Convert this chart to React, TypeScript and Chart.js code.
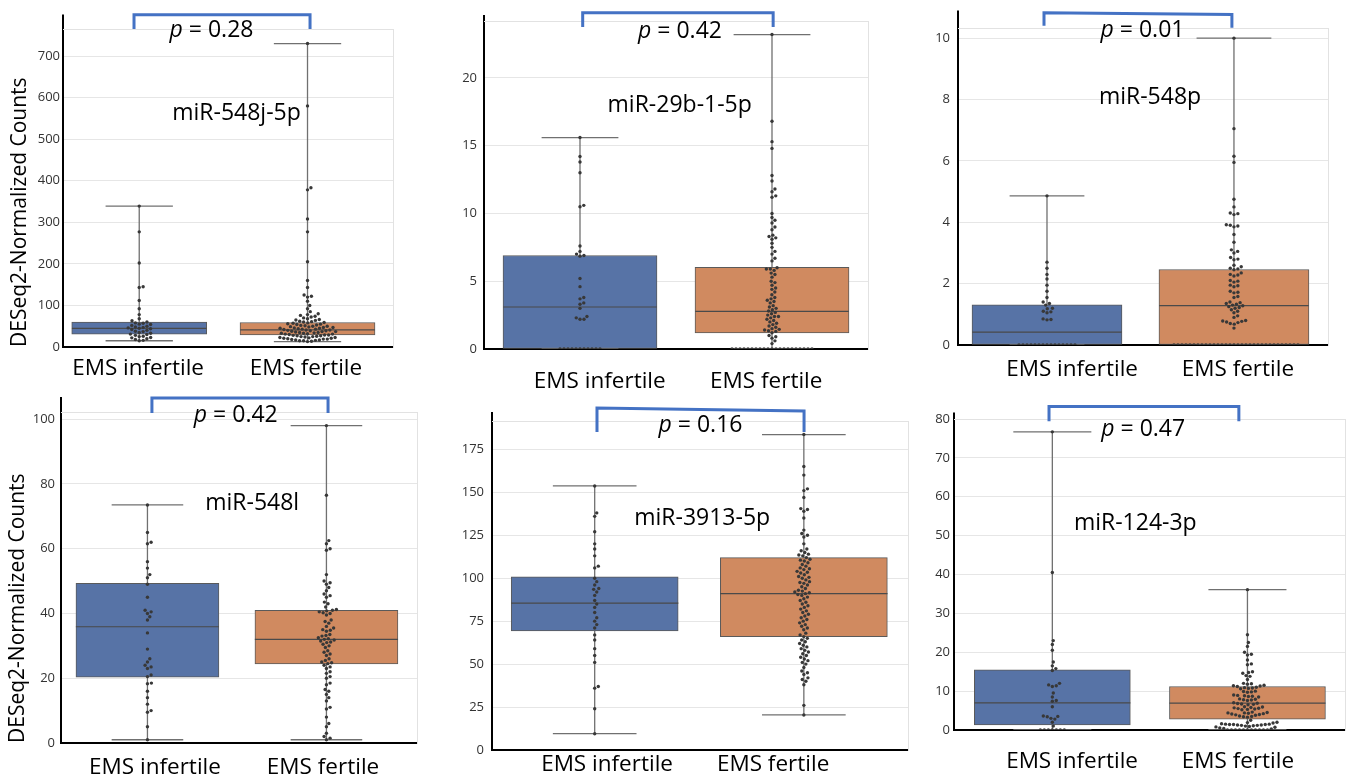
import React, { useEffect, useRef } from 'react';
import { Chart, registerables } from 'chart.js';

Chart.register(...registerables);

const FONT = "'Open Sans', 'DejaVu Sans', sans-serif";
const GROUPS = ['EMS infertile', 'EMS fertile'];
const Y_TITLE = 'DESeq2-Normalized Counts';
const BLUE = '#5773a6';
const ORANGE = '#d08a60';
const FRAME = '#e2e2e2';

// box stats: [min, q1, median, q3, max]
// ---- Panel 1: miR-548j-5p
const p1Name = 'miR-548j-5p';
const p1PValue = '0.28';
const p1InfBox = [15, 31, 45, 60, 339];
const p1FertBox = [13, 29, 41, 59, 730];
const p1InfPts = [339, 277, 202, 145, 143, 112, 92, 78, 68, 63, 60, 58, 57, 55, 54, 52, 50, 48, 47, 46, 45, 44, 42, 40, 38, 37, 35, 33, 31, 30, 28, 26, 25, 23, 22, 20, 18, 16, 15];
const p1FertPts = [730, 580, 383, 378, 308, 277, 205, 160, 143, 125, 122, 120, 110, 100, 92, 85, 80, 78, 76, 74, 72, 70, 68, 66, 65, 64, 62, 61, 60, 59, 58, 57, 56, 55, 54, 53, 52, 51, 50, 50, 49, 48, 47, 47, 46, 45, 45, 44, 43, 43, 42, 41, 41, 40, 39, 39, 38, 37, 37, 36, 35, 35, 34, 33, 33, 32, 31, 31, 30, 29, 29, 28, 27, 27, 26, 25, 25, 24, 23, 23, 22, 21, 21, 20, 19, 19, 18, 17, 17, 16, 15, 15, 14, 13];

// ---- Panel 2: miR-29b-1-5p
const p2Name = 'miR-29b-1-5p';
const p2PValue = '0.42';
const p2InfBox = [0, 0, 3.1, 6.9, 15.6];
const p2FertBox = [0, 1.18, 2.78, 6.03, 23.2];
const p2InfPts = [15.6, 14.2, 13.8, 13.0, 10.6, 10.5, 7.6, 7.2, 7.0, 6.9, 6.85, 5.2, 4.6, 3.8, 3.7, 3.4, 3.3, 3.0, 2.4, 2.3, 2.2, 2.2, 0, 0, 0, 0, 0, 0, 0, 0, 0, 0, 0];
const p2FertPts = [23.2, 16.8, 15.3, 14.8, 12.8, 12.4, 11.8, 11.6, 11.3, 11.2, 10.0, 9.7, 9.5, 9.3, 9.0, 8.8, 8.4, 8.3, 8.2, 8.1, 7.8, 7.5, 7.2, 7.0, 6.7, 6.5, 6.0, 5.9, 5.9, 5.8, 5.6, 5.5, 5.3, 5.0, 4.9, 4.7, 4.5, 4.4, 4.2, 4.0, 3.8, 3.7, 3.6, 3.5, 3.4, 3.2, 3.1, 3.0, 2.9, 2.8, 2.7, 2.6, 2.5, 2.4, 2.4, 2.3, 2.2, 2.1, 2.0, 1.9, 1.8, 1.7, 1.6, 1.5, 1.45, 1.4, 1.35, 1.3, 1.2, 1.0, 0.9, 0.8, 0.6, 0.4, 0, 0, 0, 0, 0, 0, 0, 0, 0, 0, 0, 0, 0, 0, 0, 0, 0, 0, 0, 0, 0];

// ---- Panel 3: miR-548p
const p3Name = 'miR-548p';
const p3PValue = '0.01';
const p3InfBox = [0, 0, 0.42, 1.31, 4.86];
const p3FertBox = [0, 0, 1.28, 2.46, 10.0];
const p3InfPts = [4.86, 2.7, 2.5, 2.3, 2.15, 1.95, 1.75, 1.55, 1.4, 1.35, 1.3, 1.2, 1.18, 1.1, 1.08, 1.05, 0.85, 0.83, 0.82, 0, 0, 0, 0, 0, 0, 0, 0, 0, 0, 0, 0, 0, 0, 0];
const p3FertPts = [10.0, 7.05, 6.15, 5.95, 4.75, 4.5, 4.3, 4.28, 4.25, 3.92, 3.9, 3.88, 3.85, 3.6, 3.35, 3.1, 3.05, 3.0, 2.85, 2.8, 2.78, 2.6, 2.55, 2.5, 2.48, 2.45, 2.35, 2.3, 2.28, 2.25, 2.1, 2.08, 2.05, 1.95, 1.93, 1.9, 1.75, 1.72, 1.7, 1.58, 1.55, 1.4, 1.38, 1.35, 1.33, 1.3, 1.28, 1.25, 1.22, 1.2, 1.15, 1.1, 1.05, 0.95, 0.9, 0.8, 0.78, 0.77, 0.75, 0.73, 0.7, 0.68, 0.55, 0, 0, 0, 0, 0, 0, 0, 0, 0, 0, 0, 0, 0, 0, 0, 0, 0, 0, 0, 0, 0, 0, 0, 0, 0, 0, 0, 0, 0, 0, 0, 0];

// ---- Panel 4: miR-548l
const p4Name = 'miR-548l';
const p4PValue = '0.42';
const p4InfBox = [1, 20.3, 35.9, 49.3, 73.5];
const p4FertBox = [1, 24.4, 32, 41, 98];
const p4InfPts = [73.5, 65, 62, 61.5, 56, 54, 52, 51, 49, 45, 41, 40.5, 40, 39, 38, 34, 29, 26, 25, 24, 23.5, 23, 21, 20.5, 18.5, 18.3, 16, 14, 12, 10, 9.5, 5, 1];
const p4FertPts = [98, 76.5, 62.5, 61.5, 60, 59.5, 52, 50, 49.5, 49, 48, 47, 46, 45.5, 45, 43.5, 43, 42, 41.2, 41, 40.8, 40.5, 40.2, 40, 39.5, 38, 37.5, 37, 36, 35.5, 35, 34.8, 34.5, 33.5, 33.2, 33, 32.5, 32.2, 32, 31.8, 31.5, 31.2, 31, 30.5, 30, 29.5, 28.5, 28, 27.5, 27, 26, 25.5, 25, 24.8, 24.5, 24, 23.5, 23, 22, 21.5, 20.5, 20, 18.5, 18, 16.5, 16, 15, 14, 13, 11, 10.5, 8, 6, 5, 3, 2, 1.5, 1];

// ---- Panel 5: miR-3913-5p
const p5Name = 'miR-3913-5p';
const p5PValue = '0.16';
const p5InfBox = [9.5, 69.3, 85.5, 100.8, 153.7];
const p5FertBox = [20.4, 66, 91, 112, 183.6];
const p5InfPts = [153.7, 138, 136, 127, 120, 117, 113, 107, 106, 100, 98, 96, 94, 93.5, 92, 90, 87, 85, 83, 80, 77, 75, 73, 71, 67, 64, 59, 55, 51, 37, 36, 24, 9.5];
const p5FertPts = [183.6, 165, 160, 152, 151, 147, 140.5, 140, 139, 135, 128, 126, 125, 124, 120, 117, 116, 115, 114, 113.5, 113, 112, 111, 110.5, 110, 109, 108, 107, 106, 105.5, 105, 104, 103.5, 103, 102, 101, 100.5, 100, 99, 98, 97.5, 97, 96, 95, 94, 93, 92.5, 92, 91.5, 91, 90.5, 90, 89, 88, 87, 86, 85, 84, 83, 82, 81, 80, 79, 78, 77, 76, 75, 74, 73, 72, 71, 70, 68, 67, 66, 65, 64, 63, 62, 61, 60, 59, 58, 57, 56, 55, 54, 53, 52, 51, 50, 48, 46, 45, 44, 42, 41, 40, 38, 26, 20.4];

// ---- Panel 6: miR-124-3p
const p6Name = 'miR-124-3p';
const p6PValue = '0.47';
const p6InfBox = [0, 1.3, 7.0, 15.5, 76.7];
const p6FertBox = [0, 2.8, 6.9, 11.2, 36.1];
const p6InfPts = [76.7, 40.5, 23, 22, 20.5, 17.5, 16.5, 15.8, 15.3, 12, 11.6, 11.4, 11.2, 9.5, 8.5, 7.6, 7.4, 6, 3.6, 3.5, 3.4, 3, 2.8, 2, 1, 0, 0, 0, 0, 0, 0, 0];
const p6FertPts = [36.1, 24.5, 22.5, 21.5, 20, 19.5, 19.3, 18, 17, 16.8, 15, 14.8, 14.6, 14, 13.8, 13, 12, 11.9, 11.8, 11.5, 11.4, 11.3, 11.2, 11, 10.9, 10.8, 10.7, 10.6, 10, 9.9, 9.8, 9.7, 9, 8.9, 8.8, 8.7, 8.6, 8.5, 8, 7.9, 7.8, 7.7, 7.6, 7, 6.9, 6.8, 6.7, 6.6, 6.5, 6, 5.9, 5.8, 5.7, 5.6, 5.5, 5.4, 5.3, 5.2, 4.6, 4.5, 4.4, 4.4, 4.3, 4.2, 4.1, 4.0, 3.9, 3.8, 3.6, 3.5, 3.4, 3.3, 2.5, 2.0, 1.9, 1.8, 1.6, 1.5, 1.5, 1.4, 1.4, 1.4, 1.3, 1.3, 1.2, 1.2, 1.1, 1.0, 0.9, 0.8, 0.7, 0.5, 0.4, 0.3, 0, 0, 0, 0, 0, 0, 0, 0, 0, 0, 0];

type PanelCfg = {
  name: string; pValue: string;
  infBox: number[]; fertBox: number[]; infPts: number[]; fertPts: number[];
  left: number; top: number; L: number; T: number; R: number; B: number;
  xMin: number; xMax: number; yMax: number; step: number; barPx: number;
  labelX: number[]; labelPad: number; tickPad: number; yTitlePad?: number;
  bracket: number[][]; axisTop: number; pPos: number[]; namePos: number[]; padR: number;
};

const PANELS: PanelCfg[] = [
  {
    name: p1Name, pValue: p1PValue, infBox: p1InfBox, fertBox: p1FertBox, infPts: p1InfPts, fertPts: p1FertPts,
    left: 0, top: 0, L: 63, T: 29, R: 393, B: 347, xMin: 0.047, xMax: 2.008, yMax: 765, step: 100, barPx: 135,
    labelX: [0.493, 1.491], labelPad: 8.5, tickPad: 3, yTitlePad: 7,
    bracket: [[0.469, 765], [0.469, 799], [1.515, 799], [1.515, 765]], axisTop: 800,
    pPos: [211.5, 28.3], namePos: [236.5, 111], padR: 8,
  },
  {
    name: p2Name, pValue: p2PValue, infBox: p2InfBox, fertBox: p2FertBox, infPts: p2InfPts, fertPts: p2FertPts,
    left: 450, top: 0, L: 484, T: 21, R: 868, B: 349, xMin: 0, xMax: 2, yMax: 24.2, step: 5, barPx: 154,
    labelX: [0.603, 1.47], labelPad: 19.2, tickPad: 7,
    bracket: [[0.514, 23.76], [0.514, 24.8], [1.506, 24.8], [1.506, 23.76]], axisTop: 24.65,
    pPos: [680, 29.2], namePos: [679.7, 103.3], padR: 8,
  },
  {
    name: p3Name, pValue: p3PValue, infBox: p3InfBox, fertBox: p3FertBox, infPts: p3InfPts, fertPts: p3FertPts,
    left: 905, top: 0, L: 958, T: 28, R: 1328, B: 345, xMin: 0.024, xMax: 2.003, yMax: 10.33, step: 2, barPx: 150,
    labelX: [0.634, 1.521], labelPad: 11.5, tickPad: 8,
    bracket: [[0.484, 10.4], [0.484, 10.83], [1.489, 10.77], [1.489, 10.34]], axisTop: 10.9,
    pPos: [1142.5, 27.5], namePos: [1150, 94.5], padR: 8,
  },
  {
    name: p4Name, pValue: p4PValue, infBox: p4InfBox, fertBox: p4FertBox, infPts: p4InfPts, fertPts: p4FertPts,
    left: 0, top: 390, L: 61, T: 412, R: 417, B: 743, xMin: 0.017, xMax: 2.006, yMax: 102.2, step: 20, barPx: 143,
    labelX: [0.542, 1.481], labelPad: 11.5, tickPad: 6, yTitlePad: 5,
    bracket: [[0.525, 101.9], [0.525, 106.5], [1.509, 106.5], [1.509, 101.9]], axisTop: 106.8,
    pPos: [235.8, 412.5], namePos: [252.2, 500.5], padR: 8,
  },
  {
    name: p5Name, pValue: p5PValue, infBox: p5InfBox, fertBox: p5FertBox, infPts: p5InfPts, fertPts: p5FertPts,
    left: 455, top: 390, L: 492, T: 421, R: 908, B: 750, xMin: 0.009, xMax: 1.998, yMax: 191.5, step: 25, barPx: 167,
    labelX: [0.559, 1.353], labelPad: 1.5, tickPad: 8,
    bracket: [[0.511, 185.1], [0.511, 199.1], [1.501, 197.3], [1.501, 185.1]], axisTop: 196.7,
    pPos: [700.5, 422.5], namePos: [702.2, 515.5], padR: 8,
  },
  {
    name: p6Name, pValue: p6PValue, infBox: p6InfBox, fertBox: p6FertBox, infPts: p6InfPts, fertPts: p6FertPts,
    left: 910, top: 390, L: 954, T: 419, R: 1345, B: 730, xMin: -0.004, xMax: 2.0, yMax: 80, step: 10, barPx: 156,
    labelX: [0.601, 1.451], labelPad: 18, tickPad: 4,
    bracket: [[0.483, 79.4], [0.483, 83.2], [1.456, 83.2], [1.456, 79.4]], axisTop: 81.7,
    pPos: [1143.2, 426.7], namePos: [1135.3, 521.3], padR: 4,
  },
];

const CENTERS = [0.5, 1.5];
const PAD_B = 60;
const DOT_D = 4;

// beeswarm layout in pixel space: returns horizontal pixel offsets
function swarmOffsets(py: number[], d: number): number[] {
  const idx = py.map((_, i) => i).sort((a, b) => py[b] - py[a]);
  const placed: { y: number; x: number }[] = [];
  const out: number[] = py.map(() => 0);
  for (const i of idx) {
    const y = py[i];
    const cands = [0];
    for (const p of placed) {
      const dy = Math.abs(p.y - y);
      if (dy < d) {
        const dx = Math.sqrt(d * d - dy * dy);
        cands.push(p.x + dx, p.x - dx);
      }
    }
    cands.sort((a, b) => Math.abs(a) - Math.abs(b));
    let chosen = 0;
    for (const c of cands) {
      let ok = true;
      for (const p of placed) {
        const dy = p.y - y;
        const dx = p.x - c;
        if (dx * dx + dy * dy < d * d - 0.01) { ok = false; break; }
      }
      if (ok) { chosen = c; break; }
    }
    placed.push({ y, x: chosen });
    out[i] = chosen;
  }
  return out;
}

function Panel({ cfg }: { cfg: PanelCfg }) {
  const ref = useRef<HTMLCanvasElement | null>(null);
  const width = cfg.R - cfg.left + cfg.padR;
  const height = cfg.B - cfg.top + PAD_B;

  useEffect(() => {
    if (!ref.current) return;
    const padL = cfg.L - cfg.left;
    const padT = cfg.T - cfg.top;
    const boxes = [cfg.infBox, cfg.fertBox];
    const ptsSets = [cfg.infPts, cfg.fertPts];

    const whiskers: any[] = [];
    boxes.forEach((b, i) => {
      const cx = CENTERS[i];
      whiskers.push(
        { x: cx, y: b[0] }, { x: cx, y: b[4] }, { x: cx, y: null },
        { x: cx - 0.2, y: b[4] }, { x: cx + 0.2, y: b[4] }, { x: cx, y: null },
        { x: cx - 0.2, y: b[0] }, { x: cx + 0.2, y: b[0] }, { x: cx, y: null },
      );
    });
    const medians: any[] = [];
    boxes.forEach((b, i) => {
      const cx = CENTERS[i];
      medians.push({ x: cx - 0.4, y: b[2] }, { x: cx + 0.4, y: b[2] }, { x: cx, y: null });
    });

    const pointDs = (vals: number[], i: number) => ({
      type: 'line',
      data: vals.map((v) => ({ x: CENTERS[i], y: v })),
      showLine: false,
      pointRadius: 1.7,
      pointBackgroundColor: '#383838',
      pointBorderWidth: 0,
      order: 1,
    });

    const chart = new Chart(ref.current, {
      type: 'line',
      data: {
        datasets: [
          {
            type: 'line', data: whiskers, borderColor: '#707070', borderWidth: 1.3,
            pointRadius: 0, spanGaps: false, order: 5,
          },
          {
            type: 'bar',
            data: boxes.map((b, i) => ({ x: CENTERS[i], y: [b[1], b[3]] })),
            backgroundColor: [BLUE, ORANGE], borderColor: '#5a5a5a', borderWidth: 1,
            borderSkipped: false, barThickness: cfg.barPx, order: 4,
          },
          {
            type: 'line', data: medians, borderColor: '#4a4a4a', borderWidth: 1.2,
            pointRadius: 0, spanGaps: false, order: 3,
          },
          pointDs(ptsSets[0], 0),
          pointDs(ptsSets[1], 1),
          {
            type: 'line', data: cfg.bracket.map((p) => ({ x: p[0], y: p[1] })),
            borderColor: '#4472c4', borderWidth: 3, pointRadius: 0, clip: false as any,
            borderCapStyle: 'butt', borderJoinStyle: 'miter', order: 0,
          },
          {
            type: 'line', data: [{ x: cfg.xMin, y: cfg.yMax }, { x: cfg.xMin, y: cfg.axisTop }],
            borderColor: '#000', borderWidth: 2, pointRadius: 0, clip: false as any, order: 0,
          },
        ] as any,
      },
      options: {
        responsive: false,
        animation: false,
        events: [],
        layout: { padding: { left: 0, right: cfg.padR, top: padT, bottom: 0 } },
        plugins: { legend: { display: false }, tooltip: { enabled: false }, title: { display: false } },
        scales: {
          x: {
            type: 'linear', position: 'bottom', min: cfg.xMin, max: cfg.xMax, offset: false,
            afterBuildTicks: (s: any) => { s.ticks = cfg.labelX.map((v) => ({ value: v })); },
            afterFit: (s: any) => { s.height = PAD_B; },
            ticks: {
              callback: (_v: any, i: number) => GROUPS[i],
              font: { family: FONT, size: 22.5 }, color: '#000', padding: cfg.labelPad,
              maxRotation: 0, minRotation: 0, autoSkip: false,
            },
            grid: { display: false, drawTicks: false },
            border: { display: true, color: '#000', width: 2 },
          },
          y: {
            type: 'linear', position: 'left', min: 0, max: cfg.yMax,
            afterFit: (s: any) => { s.width = padL; },
            ticks: {
              stepSize: cfg.step, includeBounds: false,
              font: { family: FONT, size: 13 }, color: '#333', padding: cfg.tickPad,
            },
            grid: { color: '#e6e6e6', lineWidth: 1, drawTicks: false },
            border: { display: true, color: '#000', width: 2 },
            title: cfg.yTitlePad !== undefined ? {
              display: true, text: Y_TITLE, align: 'start', color: '#000',
              font: { family: FONT, size: 21 }, padding: { top: cfg.yTitlePad, bottom: 0 },
            } : { display: false },
          },
          xTop: {
            type: 'linear', position: 'top', min: cfg.xMin, max: cfg.xMax,
            afterFit: (s: any) => { s.height = 0; },
            ticks: { display: false }, grid: { display: false, drawTicks: false },
            border: { display: true, color: FRAME, width: 1 },
          },
          yRight: {
            type: 'linear', position: 'right', min: 0, max: cfg.yMax,
            afterFit: (s: any) => { s.width = 0; },
            ticks: { display: false }, grid: { display: false, drawTicks: false },
            border: { display: true, color: FRAME, width: 1 },
          },
        },
      } as any,
    });

    // place the swarm points through the chart's own scales
    const xs: any = chart.scales.x;
    const ys: any = chart.scales.y;
    [3, 4].forEach((di, gi) => {
      const vals = ptsSets[gi];
      const cxPx = xs.getPixelForValue(CENTERS[gi]);
      const offs = swarmOffsets(vals.map((v) => ys.getPixelForValue(v)), DOT_D);
      (chart.data.datasets[di] as any).data = vals.map((v, k) => ({ x: xs.getValueForPixel(cxPx + offs[k]), y: v }));
    });
    chart.update('none');

    return () => chart.destroy();
  }, [cfg]);

  const textStyle: React.CSSProperties = {
    position: 'absolute', transform: 'translate(-50%, -50%)', whiteSpace: 'nowrap',
    fontFamily: FONT, fontSize: 23, lineHeight: 1, color: '#000',
  };

  return (
    <>
      <canvas
        ref={ref}
        width={width}
        height={height}
        style={{ position: 'absolute', left: cfg.left, top: cfg.top, width, height }}
      />
      <div style={{ ...textStyle, left: cfg.pPos[0], top: cfg.pPos[1] }}>
        <i>p</i> = {cfg.pValue}
      </div>
      <div style={{ ...textStyle, left: cfg.namePos[0], top: cfg.namePos[1] }}>{cfg.name}</div>
    </>
  );
}

export default function App() {
  return (
    <div
      style={{
        position: 'absolute', left: 0, top: 0, width: 1349, height: 782,
        overflow: 'hidden', background: '#fff',
      }}
    >
      {PANELS.map((p, i) => (
        <Panel key={i} cfg={p} />
      ))}
    </div>
  );
}
